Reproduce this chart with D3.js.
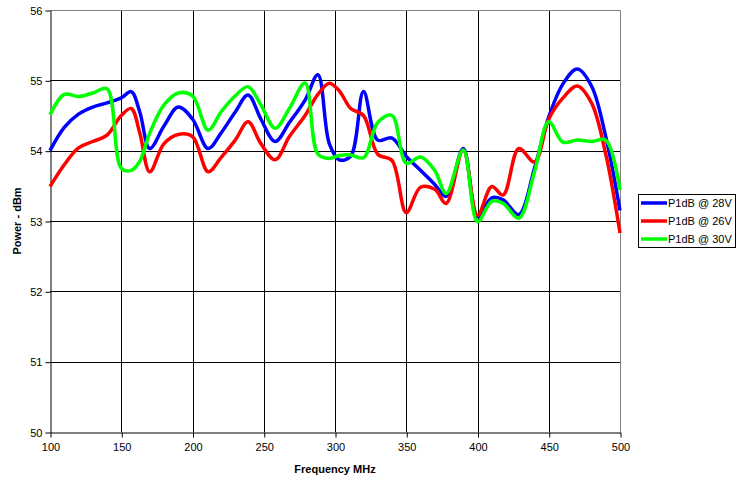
<!DOCTYPE html>
<html>
<head>
<meta charset="utf-8">
<script src="https://cdn.jsdelivr.net/npm/d3@7"></script>
<style>
  body { margin: 0; background: #fff; }
  svg { font-family: "Liberation Sans", Arial, sans-serif; }
  .tick text { font-size: 11px; fill: #000; }
  .axis-title { font-size: 11px; font-weight: bold; }
  .legend text { font-size: 11px; }
</style>
</head>
<body>
<svg id="chart" width="749" height="482"></svg>
<script>
// frequency points (MHz)
let freq = [100,110,120,130,140,150,157,163,170,180,190,200,211,220,230,239,248,258,268,279,288,296,303,311,320,330,340,350,360,370,378,390,400,410,418,429,440,450,460,470,480,490,500]

let p1db28 = [54.00,54.33,54.52,54.62,54.68,54.75,54.84,54.55,54.03,54.35,54.62,54.45,54.03,54.25,54.55,54.79,54.45,54.13,54.40,54.72,55.08,54.10,53.87,53.92,54.84,54.15,54.18,53.92,53.72,53.52,53.35,54.03,53.06,53.33,53.30,53.09,53.75,54.48,54.95,55.16,54.92,54.20,53.15]
let p1db26 = [53.49,53.80,54.04,54.13,54.22,54.50,54.60,54.25,53.70,54.10,54.23,54.20,53.70,53.90,54.15,54.41,54.10,53.87,54.20,54.50,54.80,54.96,54.85,54.60,54.50,53.95,53.86,53.12,53.48,53.45,53.25,54.01,53.08,53.49,53.37,54.03,53.84,54.45,54.75,54.92,54.68,53.95,52.83]
let p1db30 = [54.51,54.80,54.77,54.82,54.88,53.75,53.72,53.85,54.25,54.65,54.82,54.78,54.29,54.55,54.78,54.91,54.65,54.32,54.60,54.96,53.95,53.89,53.93,53.94,53.90,54.40,54.50,53.82,53.91,53.72,53.39,54.01,52.99,53.28,53.25,53.04,53.70,54.41,54.12,54.15,54.13,54.15,53.44]

let seriesNames = ["P1dB @ 28V", "P1dB @ 26V", "P1dB @ 30V"]
let seriesColors = ["#0000ff", "#ff0000", "#00ff00"]
let seriesValues = [p1db28, p1db26, p1db30]

let xTicks = [100,150,200,250,300,350,400,450,500]
let yTicks = [50,51,52,53,54,55,56]

let svg = d3.select("#chart")
let pl = 50, pr = 620, pt = 10, pb = 432

let x = d3.scaleLinear().domain([100, 500]).range([pl, pr])
let y = d3.scaleLinear().domain([50, 56]).range([pb, pt])

// gridlines
svg.append("g")
    .selectAll("line")
    .data(yTicks.slice(1, -1))
    .enter()
    .append("line")
        .attr("x1", pl).attr("x2", pr)
        .attr("y1", d => Math.round(y(d)) + 0.5)
        .attr("y2", d => Math.round(y(d)) + 0.5)
        .attr("stroke", "#000")

svg.append("g")
    .selectAll("line")
    .data(xTicks.slice(1, -1))
    .enter()
    .append("line")
        .attr("y1", pt).attr("y2", pb)
        .attr("x1", d => Math.round(x(d)) + 0.5)
        .attr("x2", d => Math.round(x(d)) + 0.5)
        .attr("stroke", "#000")

// plot border top / right
svg.append("path")
    .attr("d", `M${pl},${pt + 0.5}H${pr + 0.5}V${pb}`)
    .attr("fill", "none")
    .attr("stroke", "#808080")

// axes
let xAxis = svg.append("g")
    .attr("transform", `translate(0.5,${pb + 0.5})`)
    .call(d3.axisBottom(x).tickValues(xTicks).tickSize(5).tickPadding(6).tickSizeOuter(0))
let yAxis = svg.append("g")
    .attr("transform", `translate(${pl + 0.5},0.5)`)
    .call(d3.axisLeft(y).tickValues(yTicks).tickFormat(d3.format("d")).tickSize(5).tickPadding(3).tickSizeOuter(0))
xAxis.select(".domain").attr("stroke", "#000")
yAxis.select(".domain").attr("stroke", "#000")
svg.selectAll(".tick text").attr("font-family", "Liberation Sans, Arial, sans-serif").attr("font-size", 11)

// series lines
let line = d3.line()
    .x((d, i) => x(freq[i]))
    .y(d => y(d))
    .curve(d3.curveCatmullRom.alpha(0.5))

let plot = svg.append("g")
seriesValues.forEach((vals, k) => {
    plot.append("path")
        .datum(vals)
        .attr("d", line)
        .attr("fill", "none")
        .attr("stroke", seriesColors[k])
        .attr("stroke-width", 3.5)
        .attr("stroke-linejoin", "round")
})

// axis titles
svg.append("text")
    .attr("class", "axis-title")
    .attr("x", (pl + pr) / 2)
    .attr("y", 473)
    .attr("text-anchor", "middle")
    .text("Frequency MHz")

svg.append("text")
    .attr("class", "axis-title")
    .attr("transform", `translate(21,${(pt + pb) / 2}) rotate(-90)`)
    .attr("text-anchor", "middle")
    .text("Power - dBm")

// legend
let legend = svg.append("g").attr("class", "legend")
legend.append("rect")
    .attr("x", 638.5).attr("y", 194.5)
    .attr("width", 97).attr("height", 53)
    .attr("fill", "#fff")
    .attr("stroke", "#000")

seriesNames.forEach((name, k) => {
    let ly = 203 + k * 18
    legend.append("line")
        .attr("x1", 641).attr("x2", 667)
        .attr("y1", ly).attr("y2", ly)
        .attr("stroke", seriesColors[k])
        .attr("stroke-width", 3.5)
    legend.append("text")
        .attr("x", 668)
        .attr("y", ly + 4)
        .text(name)
})
</script>
</body>
</html>
